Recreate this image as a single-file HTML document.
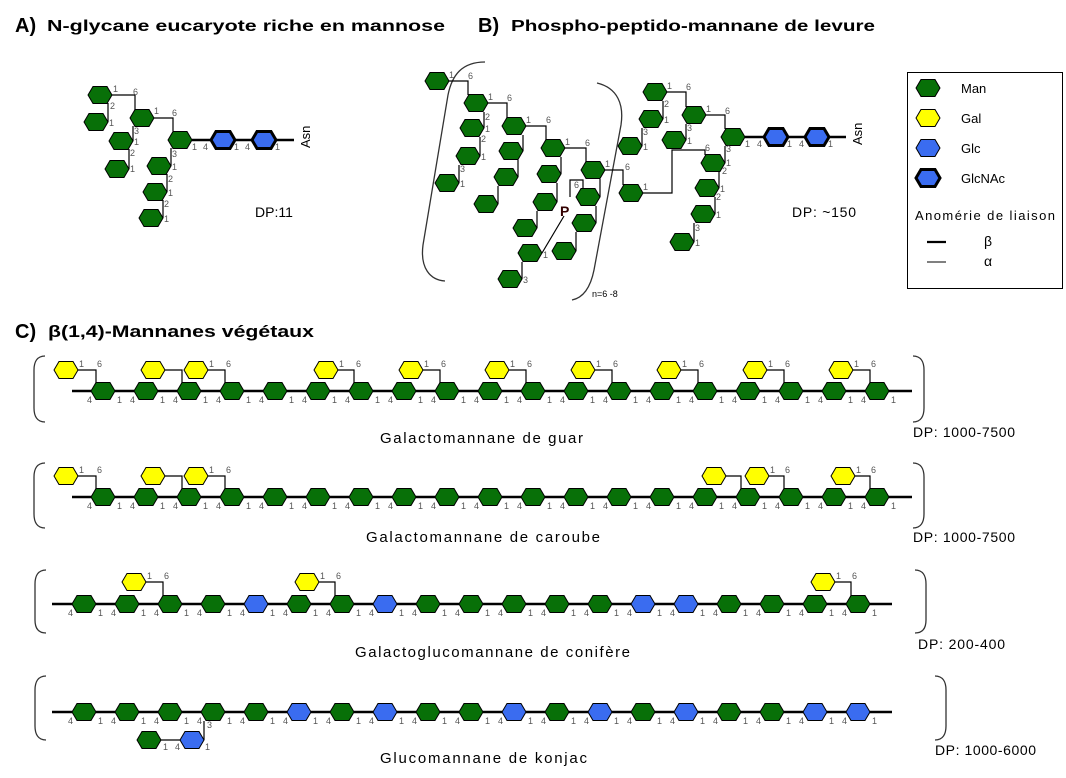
<!DOCTYPE html>
<html><head><meta charset="utf-8"><style>
html,body{margin:0;padding:0;background:#fff;}
svg{display:block;font-family:"Liberation Sans",sans-serif;}
.sm{font-size:9px;fill:#555;}
.ln{stroke:#000;stroke-width:1.2;fill:none;}
.bk{stroke:#000;stroke-width:2.6;fill:none;}
.br{stroke:#333;stroke-width:1.3;fill:none;}
</style></head><body>
<svg width="1066" height="778" viewBox="0 0 1066 778" xmlns="http://www.w3.org/2000/svg">
<defs>
<polygon id="M" points="-12,0 -7,-8.5 7,-8.5 12,0 7,8.5 -7,8.5" fill="#087008" stroke="#000" stroke-width="1"/>
<polygon id="G" points="-12,0 -7,-8.5 7,-8.5 12,0 7,8.5 -7,8.5" fill="#ffff00" stroke="#000" stroke-width="1"/>
<polygon id="B" points="-12,0 -7,-8.5 7,-8.5 12,0 7,8.5 -7,8.5" fill="#3a6cf0" stroke="#000" stroke-width="1"/>
<polygon id="N" points="-12,0 -7,-8.5 7,-8.5 12,0 7,8.5 -7,8.5" fill="#3a6cf0" stroke="#000" stroke-width="3"/>
</defs>

<!-- Titles -->
<text x="15" y="32" font-size="20" font-weight="bold">A)</text>
<text x="47" y="31" font-size="16" font-weight="bold" textLength="398" lengthAdjust="spacingAndGlyphs">N-glycane  eucaryote riche en mannose</text>
<text x="478" y="32" font-size="20" font-weight="bold">B)</text>
<text x="511" y="31" font-size="16" font-weight="bold" textLength="364" lengthAdjust="spacingAndGlyphs">Phospho-peptido-mannane de levure</text>
<text x="15" y="338" font-size="20" font-weight="bold">C)</text>
<text x="48" y="337" font-size="17" font-weight="bold" textLength="266" lengthAdjust="spacingAndGlyphs">β(1,4)-Mannanes végétaux</text>

<!-- Panel A -->
<path class="ln" d="M112,95 H135 V110 M154,118 H173 V131 M108,122 V103 M133,141 V126 M129,169 V149 M171,166 V148 M167,192 V174 M163,218 V200"/>
<path class="bk" d="M192,140 H294"/>
<use href="#M" x="100" y="95"/><use href="#M" x="96" y="122"/><use href="#M" x="142" y="118"/>
<use href="#M" x="121" y="141"/><use href="#M" x="117" y="169"/><use href="#M" x="180" y="140"/>
<use href="#M" x="159" y="166"/><use href="#M" x="155" y="192"/><use href="#M" x="151" y="218"/>
<use href="#N" x="223" y="140"/><use href="#N" x="264" y="140"/>
<text class="sm" x="113" y="92">1</text><text class="sm" x="133" y="95">6</text><text class="sm" x="110" y="109">2</text>
<text class="sm" x="109" y="126">1</text><text class="sm" x="154" y="114">1</text><text class="sm" x="172" y="116">6</text>
<text class="sm" x="134" y="134">3</text><text class="sm" x="134" y="145">1</text><text class="sm" x="130" y="156">2</text>
<text class="sm" x="130" y="172">1</text><text class="sm" x="192" y="150">1</text><text class="sm" x="203" y="150">4</text>
<text class="sm" x="234" y="150">1</text><text class="sm" x="245" y="150">4</text><text class="sm" x="275" y="150">1</text>
<text class="sm" x="172" y="157">3</text><text class="sm" x="172" y="170">1</text><text class="sm" x="168" y="182">2</text>
<text class="sm" x="168" y="196">1</text><text class="sm" x="164" y="207">2</text><text class="sm" x="164" y="222">1</text>
<text x="0" y="0" font-size="13" transform="translate(310,148) rotate(-90)">Asn</text>
<text x="255" y="217" font-size="14">DP:11</text>

<!-- Panel B brackets -->
<path class="br" d="M485,62 C462,62 452,75 448,95 L423,245 C420,268 430,280 445,281"/>
<path class="br" d="M597,83 C618,88 624,105 621,125 L594,270 C590,290 582,298 572,300"/>
<text x="592" y="297" font-size="9">n=6 -8</text>

<!-- Panel B connections -->
<path class="ln" d="M449,81 H468 V95 M488,103 H507 V118 M526,126 H546 V140 M565,148 H586 V162 M605,170 H623 V185
M484,128 V112 M480,156 V137 M459,183 V165 M523,151 V135 M518,177 V160 M498,204 V186
M561,174 V157 M557,202 V183 M537,228 V211 M600,197 V179 M596,223 V206 M576,251 V232 M522,279 V262
M542,253 L564,216 M570,197 V180 H583 V188
M667,92 H686 V107 M706,115 H725 V129 M663,119 V101 M642,146 V128 M686,140 V124 M725,163 V146
M643,193 H672 V150 H705 V155 M719,188 V172 M715,214 V197 M694,242 V223"/>
<path class="bk" d="M745,137 H846"/>
<use href="#M" x="437" y="81"/><use href="#M" x="476" y="103"/><use href="#M" x="472" y="128"/>
<use href="#M" x="468" y="156"/><use href="#M" x="447" y="183"/><use href="#M" x="514" y="126"/>
<use href="#M" x="511" y="151"/><use href="#M" x="506" y="177"/><use href="#M" x="486" y="204"/>
<use href="#M" x="553" y="148"/><use href="#M" x="549" y="174"/><use href="#M" x="545" y="202"/>
<use href="#M" x="525" y="228"/><use href="#M" x="593" y="170"/><use href="#M" x="588" y="197"/>
<use href="#M" x="584" y="223"/><use href="#M" x="564" y="251"/><use href="#M" x="530" y="253"/>
<use href="#M" x="510" y="279"/><use href="#M" x="631" y="193"/>
<use href="#M" x="655" y="92"/><use href="#M" x="651" y="119"/><use href="#M" x="630" y="146"/>
<use href="#M" x="694" y="115"/><use href="#M" x="674" y="140"/><use href="#M" x="733" y="137"/>
<use href="#M" x="713" y="163"/><use href="#M" x="707" y="188"/><use href="#M" x="703" y="214"/>
<use href="#M" x="682" y="242"/>
<use href="#N" x="776" y="137"/><use href="#N" x="817" y="137"/>
<text x="560" y="216" font-size="14" font-weight="bold" fill="#300">P</text>
<text class="sm" x="574" y="188">6</text>
<text class="sm" x="449" y="78">1</text><text class="sm" x="468" y="79">6</text>
<text class="sm" x="488" y="100">1</text><text class="sm" x="507" y="101">6</text>
<text class="sm" x="526" y="123">1</text><text class="sm" x="546" y="123">6</text>
<text class="sm" x="565" y="145">1</text><text class="sm" x="585" y="146">6</text>
<text class="sm" x="605" y="167">1</text><text class="sm" x="625" y="170">6</text>
<text class="sm" x="485" y="120">2</text><text class="sm" x="485" y="132">1</text><text class="sm" x="481" y="142">2</text>
<text class="sm" x="481" y="160">1</text><text class="sm" x="460" y="172">3</text><text class="sm" x="460" y="187">1</text>
<text class="sm" x="523" y="283">3</text><text class="sm" x="543" y="258">1</text>
<text class="sm" x="667" y="89">1</text><text class="sm" x="686" y="90">6</text><text class="sm" x="664" y="107">2</text>
<text class="sm" x="664" y="123">1</text><text class="sm" x="643" y="135">3</text><text class="sm" x="643" y="150">1</text>
<text class="sm" x="706" y="112">1</text><text class="sm" x="725" y="114">6</text>
<text class="sm" x="687" y="131">3</text><text class="sm" x="687" y="144">1</text>
<text class="sm" x="643" y="190">1</text><text class="sm" x="705" y="151">6</text>
<text class="sm" x="726" y="152">3</text><text class="sm" x="726" y="166">1</text><text class="sm" x="722" y="174">2</text>
<text class="sm" x="720" y="192">1</text><text class="sm" x="716" y="200">2</text><text class="sm" x="716" y="218">1</text>
<text class="sm" x="695" y="231">3</text><text class="sm" x="695" y="246">1</text>
<text class="sm" x="745" y="147">1</text><text class="sm" x="757" y="147">4</text>
<text class="sm" x="787" y="147">1</text><text class="sm" x="799" y="147">4</text><text class="sm" x="828" y="147">1</text>
<text x="0" y="0" font-size="13" transform="translate(862,145) rotate(-90)">Asn</text>
<text x="792" y="217" font-size="14" textLength="64">DP: ~150</text>

<!-- Legend -->
<rect x="907.5" y="72.5" width="155" height="216" fill="none" stroke="#000" stroke-width="1"/>
<use href="#M" x="928" y="88"/><text x="961" y="93" font-size="13">Man</text>
<use href="#G" x="928" y="118"/><text x="961" y="123" font-size="13">Gal</text>
<use href="#B" x="928" y="148"/><text x="961" y="153" font-size="13">Glc</text>
<use href="#N" x="928" y="178"/><text x="961" y="183" font-size="13">GlcNAc</text>
<text x="915" y="220" font-size="13" textLength="140">Anomérie de liaison</text>
<path d="M927,242 H946" stroke="#000" stroke-width="2.2"/><text x="984" y="246" font-size="14">β</text>
<path d="M927,262 H946" stroke="#000" stroke-width="1"/><text x="984" y="266" font-size="14">α</text>

<!-- Panel C row1: guar -->
<path class="br" d="M45,356 C37,356 34,362 34,370 V408 C34,416 37,422 45,422"/>
<path class="br" d="M913,356 C921,356 924,362 924,370 V408 C924,416 921,422 913,422"/>
<path class="bk" d="M72,391 H912"/>
<path class="ln" d="M78,370 H96 V383 M165,370 H182 V383 M208,370 H225 V383 M338,370 H354 V383 M423,370 H440 V383 M509,370 H526 V383 M595,370 H612 V383 M681,370 H698 V383 M767,370 H784 V383 M853,370 H870 V383"/>
<g>
<use href="#G" x="66" y="370"/><use href="#G" x="153" y="370"/><use href="#G" x="196" y="370"/><use href="#G" x="326" y="370"/><use href="#G" x="411" y="370"/><use href="#G" x="497" y="370"/><use href="#G" x="583" y="370"/><use href="#G" x="669" y="370"/><use href="#G" x="755" y="370"/><use href="#G" x="841" y="370"/>
<use href="#M" x="103" y="391"/><use href="#M" x="146" y="391"/><use href="#M" x="189" y="391"/><use href="#M" x="232" y="391"/><use href="#M" x="275" y="391"/><use href="#M" x="318" y="391"/><use href="#M" x="361" y="391"/><use href="#M" x="404" y="391"/><use href="#M" x="447" y="391"/><use href="#M" x="490" y="391"/><use href="#M" x="533" y="391"/><use href="#M" x="576" y="391"/><use href="#M" x="619" y="391"/><use href="#M" x="662" y="391"/><use href="#M" x="705" y="391"/><use href="#M" x="748" y="391"/><use href="#M" x="791" y="391"/><use href="#M" x="834" y="391"/><use href="#M" x="877" y="391"/>
</g>
<text class="sm" y="403" x="87 130 173 216 259 302 345 388 431 474 517 560 603 646 689 732 775 818 861">4444444444444444444</text>
<text class="sm" y="403" x="117 160 203 246 289 332 375 418 461 504 547 590 633 676 719 762 805 848 891">1111111111111111111</text>
<text class="sm" y="367" x="79 97 209 226 339 356 424 441 510 527 596 613 682 699 768 785 854 871">161616161616161616</text>
<text x="380" y="443" font-size="15" textLength="203">Galactomannane de guar</text>
<text x="913" y="437" font-size="14" textLength="102">DP: 1000-7500</text>

<!-- Row2: carob -->
<path class="br" d="M45,463 C37,463 34,469 34,477 V514 C34,522 37,528 45,528"/>
<path class="br" d="M913,463 C921,463 924,469 924,477 V514 C924,522 921,528 913,528"/>
<path class="bk" d="M72,497 H912"/>
<path class="ln" d="M78,476 H96 V489 M165,476 H182 V489 M208,476 H225 V489 M726,476 H741 V489 M769,476 H784 V489 M855,476 H870 V489"/>
<use href="#G" x="66" y="476"/><use href="#G" x="153" y="476"/><use href="#G" x="196" y="476"/><use href="#G" x="714" y="476"/><use href="#G" x="757" y="476"/><use href="#G" x="843" y="476"/>
<use href="#M" x="103" y="497"/><use href="#M" x="146" y="497"/><use href="#M" x="189" y="497"/><use href="#M" x="232" y="497"/><use href="#M" x="275" y="497"/><use href="#M" x="318" y="497"/><use href="#M" x="361" y="497"/><use href="#M" x="404" y="497"/><use href="#M" x="447" y="497"/><use href="#M" x="490" y="497"/><use href="#M" x="533" y="497"/><use href="#M" x="576" y="497"/><use href="#M" x="619" y="497"/><use href="#M" x="662" y="497"/><use href="#M" x="705" y="497"/><use href="#M" x="748" y="497"/><use href="#M" x="791" y="497"/><use href="#M" x="834" y="497"/><use href="#M" x="877" y="497"/>
<text class="sm" y="509" x="87 130 173 216 259 302 345 388 431 474 517 560 603 646 689 732 775 818 861">4444444444444444444</text>
<text class="sm" y="509" x="117 160 203 246 289 332 375 418 461 504 547 590 633 676 719 762 805 848 891">1111111111111111111</text>
<text class="sm" y="473" x="79 97 209 226 770 785 856 871">16161616</text>
<text x="366" y="542" font-size="15" textLength="234">Galactomannane de caroube</text>
<text x="913" y="542" font-size="14" textLength="102">DP: 1000-7500</text>

<!-- Row3: conifer -->
<path class="br" d="M46,570 C38,570 35,576 35,584 V620 C35,628 38,633 46,633"/>
<path class="br" d="M915,570 C923,570 926,576 926,584 V620 C926,628 923,633 915,633"/>
<path class="bk" d="M52,604 H892"/>
<path class="ln" d="M146,582 H163 V596 M319,582 H335 V596 M835,582 H851 V596"/>
<use href="#G" x="134" y="582"/><use href="#G" x="307" y="582"/><use href="#G" x="823" y="582"/>
<use href="#M" x="84" y="604"/><use href="#M" x="127" y="604"/><use href="#M" x="170" y="604"/><use href="#M" x="213" y="604"/><use href="#B" x="256" y="604"/><use href="#M" x="299" y="604"/><use href="#M" x="342" y="604"/><use href="#B" x="385" y="604"/><use href="#M" x="428" y="604"/><use href="#M" x="471" y="604"/><use href="#M" x="514" y="604"/><use href="#M" x="557" y="604"/><use href="#M" x="600" y="604"/><use href="#B" x="643" y="604"/><use href="#B" x="686" y="604"/><use href="#M" x="729" y="604"/><use href="#M" x="772" y="604"/><use href="#M" x="815" y="604"/><use href="#M" x="858" y="604"/>
<text class="sm" y="616" x="68 111 154 197 240 283 326 369 412 455 498 541 584 627 670 713 756 799 842">4444444444444444444</text>
<text class="sm" y="616" x="98 141 184 227 270 313 356 399 442 485 528 571 614 657 700 743 786 829 872">1111111111111111111</text>
<text class="sm" y="579" x="147 164 320 336 836 852">161616</text>
<text x="355" y="657" font-size="15" textLength="275">Galactoglucomannane de conifère</text>
<text x="918" y="649" font-size="14" textLength="87">DP: 200-400</text>

<!-- Row4: konjac -->
<path class="br" d="M46,676 C38,676 35,682 35,690 V726 C35,734 38,740 46,740"/>
<path class="br" d="M935,676 C943,676 946,682 946,690 V726 C946,734 943,740 935,740"/>
<path class="bk" d="M52,712 H892"/>
<path class="ln" d="M161,740 H180 M204,740 V721"/>
<use href="#M" x="84" y="712"/><use href="#M" x="127" y="712"/><use href="#M" x="170" y="712"/><use href="#M" x="213" y="712"/><use href="#M" x="256" y="712"/><use href="#B" x="299" y="712"/><use href="#M" x="342" y="712"/><use href="#B" x="385" y="712"/><use href="#M" x="428" y="712"/><use href="#M" x="471" y="712"/><use href="#B" x="514" y="712"/><use href="#M" x="557" y="712"/><use href="#B" x="600" y="712"/><use href="#M" x="643" y="712"/><use href="#B" x="686" y="712"/><use href="#M" x="729" y="712"/><use href="#M" x="772" y="712"/><use href="#B" x="815" y="712"/><use href="#B" x="858" y="712"/>
<use href="#M" x="149" y="740"/><use href="#B" x="192" y="740"/>
<text class="sm" y="724" x="68 111 154 197 240 283 326 369 412 455 498 541 584 627 670 713 756 799 842">4444444444444444444</text>
<text class="sm" y="724" x="98 141 184 227 270 313 356 399 442 485 528 571 614 657 700 743 786 829 872">1111111111111111111</text>
<text class="sm" y="750" x="163 175 205">141</text>
<text class="sm" x="207" y="728">3</text>
<text x="380" y="763" font-size="15" textLength="207">Glucomannane de konjac</text>
<text x="935" y="755" font-size="14" textLength="101">DP: 1000-6000</text>
</svg>
</body></html>
